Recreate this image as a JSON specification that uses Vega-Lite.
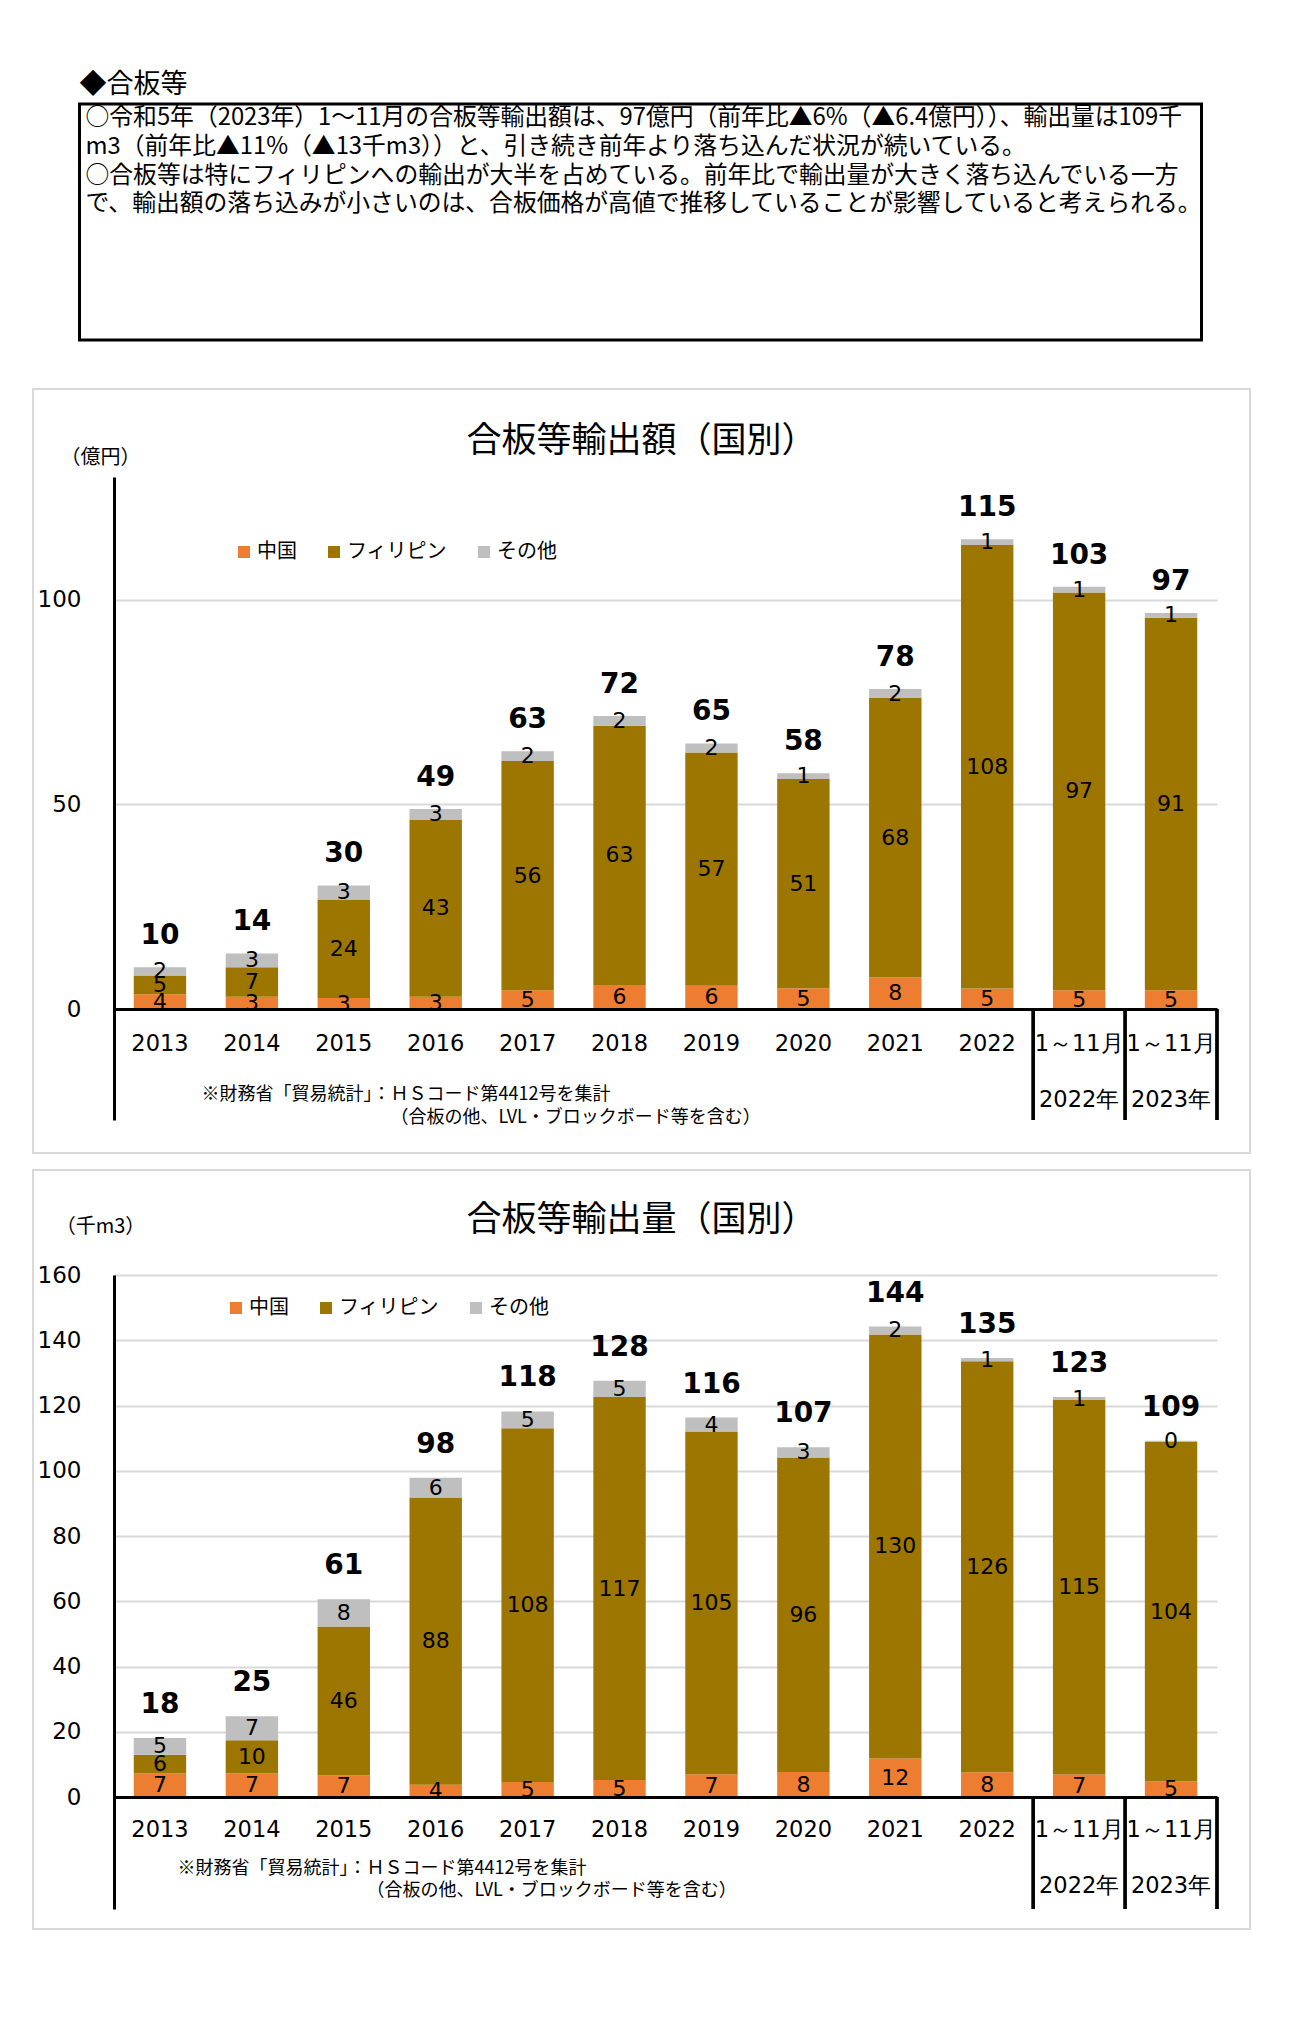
{
  "$schema": "https://vega.github.io/schema/vega-lite/v6.json",
  "background": "white",
  "padding": {"left": 32, "top": 69, "right": 5, "bottom": 5},
  "center": true,
  "spacing": 46,
  "datasets": {
    "notes": [
      {"line": 1, "text": "○令和5年（2023年）1～11月の合板等輸出額は、97億円（前年比▲6%（▲6.4億円））、輸出量は109千"},
      {"line": 2, "text": "m3（前年比▲11%（▲13千m3））と、引き続き前年より落ち込んだ状況が続いている。"},
      {"line": 3, "text": "○合板等は特にフィリピンへの輸出が大半を占めている。前年比で輸出量が大きく落ち込んでいる一方"},
      {"line": 4, "text": "で、輸出額の落ち込みが小さいのは、合板価格が高値で推移していることが影響していると考えられる。"}
    ],
    "amount": [
      {"cat": "2013", "c": "中国", "v": 3.6}, {"cat": "2013", "c": "フィリピン", "v": 4.6}, {"cat": "2013", "c": "その他", "v": 2.0},
      {"cat": "2014", "c": "中国", "v": 3.0}, {"cat": "2014", "c": "フィリピン", "v": 7.2}, {"cat": "2014", "c": "その他", "v": 3.4},
      {"cat": "2015", "c": "中国", "v": 2.7}, {"cat": "2015", "c": "フィリピン", "v": 24.1}, {"cat": "2015", "c": "その他", "v": 3.4},
      {"cat": "2016", "c": "中国", "v": 3.0}, {"cat": "2016", "c": "フィリピン", "v": 43.2}, {"cat": "2016", "c": "その他", "v": 2.7},
      {"cat": "2017", "c": "中国", "v": 4.6}, {"cat": "2017", "c": "フィリピン", "v": 56.0}, {"cat": "2017", "c": "その他", "v": 2.4},
      {"cat": "2018", "c": "中国", "v": 5.9}, {"cat": "2018", "c": "フィリピン", "v": 63.3}, {"cat": "2018", "c": "その他", "v": 2.4},
      {"cat": "2019", "c": "中国", "v": 5.7}, {"cat": "2019", "c": "フィリピン", "v": 57.0}, {"cat": "2019", "c": "その他", "v": 2.2},
      {"cat": "2020", "c": "中国", "v": 5.1}, {"cat": "2020", "c": "フィリピン", "v": 51.1}, {"cat": "2020", "c": "その他", "v": 1.4},
      {"cat": "2021", "c": "中国", "v": 7.7}, {"cat": "2021", "c": "フィリピン", "v": 68.3}, {"cat": "2021", "c": "その他", "v": 2.2},
      {"cat": "2022", "c": "中国", "v": 5.0}, {"cat": "2022", "c": "フィリピン", "v": 108.4}, {"cat": "2022", "c": "その他", "v": 1.4},
      {"cat": "1～11月 2022年", "c": "中国", "v": 4.6}, {"cat": "1～11月 2022年", "c": "フィリピン", "v": 97.2}, {"cat": "1～11月 2022年", "c": "その他", "v": 1.4},
      {"cat": "1～11月 2023年", "c": "中国", "v": 4.6}, {"cat": "1～11月 2023年", "c": "フィリピン", "v": 91.0}, {"cat": "1～11月 2023年", "c": "その他", "v": 1.2}
    ],
    "volume": [
      {"cat": "2013", "c": "中国", "v": 7.2}, {"cat": "2013", "c": "フィリピン", "v": 5.8}, {"cat": "2013", "c": "その他", "v": 5.1},
      {"cat": "2014", "c": "中国", "v": 7.2}, {"cat": "2014", "c": "フィリピン", "v": 10.2}, {"cat": "2014", "c": "その他", "v": 7.4},
      {"cat": "2015", "c": "中国", "v": 6.6}, {"cat": "2015", "c": "フィリピン", "v": 45.7}, {"cat": "2015", "c": "その他", "v": 8.3},
      {"cat": "2016", "c": "中国", "v": 3.8}, {"cat": "2016", "c": "フィリピン", "v": 88.0}, {"cat": "2016", "c": "その他", "v": 6.1},
      {"cat": "2017", "c": "中国", "v": 4.6}, {"cat": "2017", "c": "フィリピン", "v": 108.4}, {"cat": "2017", "c": "その他", "v": 5.2},
      {"cat": "2018", "c": "中国", "v": 5.2}, {"cat": "2018", "c": "フィリピン", "v": 117.4}, {"cat": "2018", "c": "その他", "v": 5.0},
      {"cat": "2019", "c": "中国", "v": 7.0}, {"cat": "2019", "c": "フィリピン", "v": 105.0}, {"cat": "2019", "c": "その他", "v": 4.3},
      {"cat": "2020", "c": "中国", "v": 7.7}, {"cat": "2020", "c": "フィリピン", "v": 96.4}, {"cat": "2020", "c": "その他", "v": 3.1},
      {"cat": "2021", "c": "中国", "v": 11.8}, {"cat": "2021", "c": "フィリピン", "v": 130.0}, {"cat": "2021", "c": "その他", "v": 2.4},
      {"cat": "2022", "c": "中国", "v": 7.6}, {"cat": "2022", "c": "フィリピン", "v": 126.0}, {"cat": "2022", "c": "その他", "v": 1.0},
      {"cat": "1～11月 2022年", "c": "中国", "v": 6.9}, {"cat": "1～11月 2022年", "c": "フィリピン", "v": 114.8}, {"cat": "1～11月 2022年", "c": "その他", "v": 0.9},
      {"cat": "1～11月 2023年", "c": "中国", "v": 4.8}, {"cat": "1～11月 2023年", "c": "フィリピン", "v": 104.0}, {"cat": "1～11月 2023年", "c": "その他", "v": 0.4}
    ]
  },
  "vconcat": [
    {
      "width": 1122,
      "height": 236,
      "view": {"stroke": "black", "strokeWidth": 3},
      "title": {"text": "◆合板等", "anchor": "start", "font": "Noto Sans CJK JP", "fontSize": 27, "fontWeight": "normal", "baseline": "middle", "offset": -8, "dx": 0, "color": "black"},
      "data": {"name": "notes"},
      "mark": {"type": "text", "align": "left", "baseline": "middle", "font": "Noto Sans CJK JP", "fontSize": 23.8, "dx": 6, "color": "black"},
      "encoding": {
        "x": {"datum": 0, "type": "quantitative", "scale": {"domain": [0, 1]}, "axis": null},
        "y": {"field": "line", "type": "quantitative", "scale": {"domain": [0.514, 8.708], "reverse": true, "nice": false, "zero": false}, "axis": null},
        "text": {"field": "text"}
      }
    },
    {
      "spacing": 15,
      "resolve": {"scale": {"color": "independent", "x": "independent", "y": "independent"}},
      "vconcat": [
        {
          "width": 1217,
          "height": 764,
          "view": {"stroke": "#d9d9d9", "strokeWidth": 2},
          "title": {"text": "合板等輸出額（国別）", "font": "Noto Sans CJK JP", "fontSize": 35, "fontWeight": "normal", "anchor": "middle", "baseline": "middle", "offset": -87, "dx": 0, "color": "black"},
          "data": {"name": "amount"},
          "encoding": {
            "x": {
              "field": "cat", "type": "nominal", "sort": null,
              "scale": {"range": [81, 1184], "paddingInner": 0, "paddingOuter": 0},
              "axis": {
                "title": ["※財務省「貿易統計」：ＨＳコード第4412号を集計", "\u200B　　　　　　　　　　\u2002（合板の他、LVL・ブロックボード等を含む）"],
                "titleX": 168, "titleY": 76, "titleAlign": "left", "titleBaseline": "top", "titleAngle": 0,
                "titleFont": "Noto Sans CJK JP", "titleFontSize": 18, "titleFontWeight": "normal", "titleLineHeight": 23, "titleColor": "black",
                "labelExpr": "split(datum.label, ' ')", "labelAngle": 0, "labelFont": "DejaVu Sans", "labelFontSize": 22.5, "labelColor": "black",
                "labelPadding": 23, "labelBaseline": "top", "labelLineHeight": 56, "labelOverlap": false, "labelFlush": false, "labelLimit": 0,
                "ticks": false, "domainColor": "black", "domainWidth": 3, "offset": -144, "zindex": 1
              }
            }
          },
          "layer": [
            {
              "mark": {"type": "bar", "width": {"band": 0.57}},
              "encoding": {
                "y": {
                  "field": "v", "type": "quantitative", "stack": "zero",
                  "scale": {"domain": [-27.1, 130], "range": [731, 88], "nice": false, "zero": false},
                  "axis": {
                    "values": [0, 50, 100], "offset": -81, "labelPadding": 33, "ticks": false,
                    "domainColor": "black", "domainWidth": 3, "grid": true, "gridColor": "#d9d9d9", "gridWidth": 2,
                    "labelFont": "DejaVu Sans", "labelFontSize": 23, "labelColor": "black",
                    "title": "（億円）", "titleAngle": 0, "titleX": -14, "titleY": 68, "titleAlign": "center", "titleBaseline": "middle",
                    "titleFont": "Noto Sans CJK JP", "titleFontSize": 20, "titleFontWeight": "normal", "titleColor": "black"
                  }
                },
                "color": {
                  "field": "c", "type": "nominal",
                  "scale": {"domain": ["中国", "フィリピン", "その他"], "range": ["#ED7D31", "#9C7600", "#BFBFBF"]},
                  "legend": {"orient": "none", "legendX": 201, "legendY": 153, "direction": "horizontal", "title": null, "symbolType": "square", "symbolSize": 144, "symbolStrokeWidth": 0, "labelFont": "Noto Sans CJK JP", "labelFontSize": 20, "labelColor": "black", "columnPadding": 27, "labelOffset": 3}
                },
                "order": {"field": "c", "sort": "descending"}
              }
            },
            {
              "mark": {"type": "text", "font": "DejaVu Sans", "fontSize": 22, "color": "black", "baseline": "middle"},
              "encoding": {
                "y": {"field": "v", "type": "quantitative", "stack": "zero", "bandPosition": 0.5},
                "detail": {"field": "c"},
                "order": {"field": "c", "sort": "descending"},
                "text": {"field": "v", "type": "quantitative", "format": ".0f"}
              }
            },
            {
              "mark": {"type": "text", "font": "DejaVu Sans", "fontSize": 28, "fontWeight": "bold", "color": "black", "baseline": "middle", "dy": -31},
              "encoding": {
                "y": {"aggregate": "sum", "field": "v", "type": "quantitative"},
                "text": {"aggregate": "sum", "field": "v", "type": "quantitative", "format": ".0f"}
              }
            },
            {
              "transform": [{"filter": "indexof(datum.cat, '月') >= 0"}],
              "mark": {"type": "rule", "color": "black", "strokeWidth": 3},
              "encoding": {
                "x": {"field": "cat", "type": "nominal", "sort": null, "bandPosition": 0},
                "y": {"datum": 0},
                "y2": {"datum": -27.1}
              }
            },
            {
              "transform": [{"filter": "datum.cat == '1～11月 2023年'"}],
              "mark": {"type": "rule", "color": "black", "strokeWidth": 3},
              "encoding": {
                "x": {"field": "cat", "type": "nominal", "sort": null, "bandPosition": 1},
                "y": {"datum": 0},
                "y2": {"datum": -27.1}
              }
            }
          ]
        },
        {
          "width": 1217,
          "height": 759,
          "view": {"stroke": "#d9d9d9", "strokeWidth": 2},
          "title": {"text": "合板等輸出量（国別）", "font": "Noto Sans CJK JP", "fontSize": 35, "fontWeight": "normal", "anchor": "middle", "baseline": "middle", "offset": -85, "dx": 0, "color": "black"},
          "data": {"name": "volume"},
          "encoding": {
            "x": {
              "field": "cat", "type": "nominal", "sort": null,
              "scale": {"range": [81, 1184], "paddingInner": 0, "paddingOuter": 0},
              "axis": {
                "title": ["※財務省「貿易統計」：ＨＳコード第4412号を集計", "\u200B　　　　　　　　　　\u2002（合板の他、LVL・ブロックボード等を含む）"],
                "titleX": 144, "titleY": 62, "titleAlign": "left", "titleBaseline": "top", "titleAngle": 0,
                "titleFont": "Noto Sans CJK JP", "titleFontSize": 18, "titleFontWeight": "normal", "titleLineHeight": 22, "titleColor": "black",
                "labelExpr": "split(datum.label, ' ')", "labelAngle": 0, "labelFont": "DejaVu Sans", "labelFontSize": 22.5, "labelColor": "black",
                "labelPadding": 21, "labelBaseline": "top", "labelLineHeight": 56, "labelOverlap": false, "labelFlush": false, "labelLimit": 0,
                "ticks": false, "domainColor": "black", "domainWidth": 3, "offset": -132, "zindex": 1
              }
            }
          },
          "layer": [
            {
              "mark": {"type": "bar", "width": {"band": 0.57}},
              "encoding": {
                "y": {
                  "field": "v", "type": "quantitative", "stack": "zero",
                  "scale": {"domain": [-34.3, 160], "range": [739, 105], "nice": false, "zero": false},
                  "axis": {
                    "values": [0, 20, 40, 60, 80, 100, 120, 140, 160], "offset": -81, "labelPadding": 33, "ticks": false,
                    "domainColor": "black", "domainWidth": 3, "grid": true, "gridColor": "#d9d9d9", "gridWidth": 2,
                    "labelFont": "DejaVu Sans", "labelFontSize": 23, "labelColor": "black",
                    "title": "（千m3）", "titleAngle": 0, "titleX": -14, "titleY": 56, "titleAlign": "center", "titleBaseline": "middle",
                    "titleFont": "Noto Sans CJK JP", "titleFontSize": 20, "titleFontWeight": "normal", "titleColor": "black"
                  }
                },
                "color": {
                  "field": "c", "type": "nominal",
                  "scale": {"domain": ["中国", "フィリピン", "その他"], "range": ["#ED7D31", "#9C7600", "#BFBFBF"]},
                  "legend": {"orient": "none", "legendX": 193, "legendY": 128, "direction": "horizontal", "title": null, "symbolType": "square", "symbolSize": 144, "symbolStrokeWidth": 0, "labelFont": "Noto Sans CJK JP", "labelFontSize": 20, "labelColor": "black", "columnPadding": 27, "labelOffset": 3}
                },
                "order": {"field": "c", "sort": "descending"}
              }
            },
            {
              "mark": {"type": "text", "font": "DejaVu Sans", "fontSize": 22, "color": "black", "baseline": "middle"},
              "encoding": {
                "y": {"field": "v", "type": "quantitative", "stack": "zero", "bandPosition": 0.5},
                "detail": {"field": "c"},
                "order": {"field": "c", "sort": "descending"},
                "text": {"field": "v", "type": "quantitative", "format": ".0f"}
              }
            },
            {
              "mark": {"type": "text", "font": "DejaVu Sans", "fontSize": 28, "fontWeight": "bold", "color": "black", "baseline": "middle", "dy": -33},
              "encoding": {
                "y": {"aggregate": "sum", "field": "v", "type": "quantitative"},
                "text": {"aggregate": "sum", "field": "v", "type": "quantitative", "format": ".0f"}
              }
            },
            {
              "transform": [{"filter": "indexof(datum.cat, '月') >= 0"}],
              "mark": {"type": "rule", "color": "black", "strokeWidth": 3},
              "encoding": {
                "x": {"field": "cat", "type": "nominal", "sort": null, "bandPosition": 0},
                "y": {"datum": 0},
                "y2": {"datum": -34.3}
              }
            },
            {
              "transform": [{"filter": "datum.cat == '1～11月 2023年'"}],
              "mark": {"type": "rule", "color": "black", "strokeWidth": 3},
              "encoding": {
                "x": {"field": "cat", "type": "nominal", "sort": null, "bandPosition": 1},
                "y": {"datum": 0},
                "y2": {"datum": -34.3}
              }
            }
          ]
        }
      ]
    }
  ],
  "config": {
    "view": {"stroke": null},
    "font": "Noto Sans CJK JP"
  }
}
